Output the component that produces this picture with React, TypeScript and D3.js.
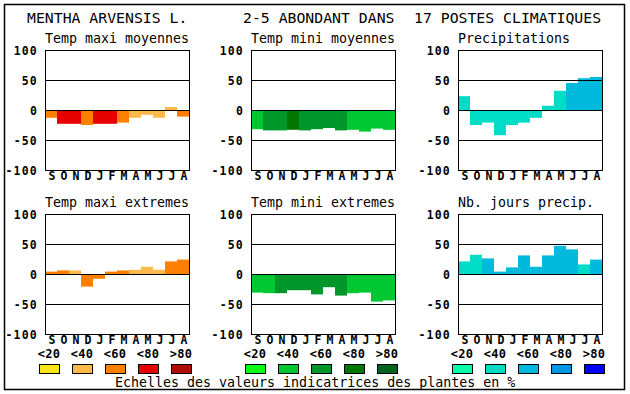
import React from "react";
import { scaleBand, scaleLinear } from "d3";

const months = ["S", "O", "N", "D", "J", "F", "M", "A", "M", "J", "J", "A"];
const ticks = [100, 50, 0, -50, -100];
const legendLabels = ["<20", "<40", "<60", "<80", ">80"];

// values in %, class = index into the palette (0:<20 ... 4:>80)
const tempMaxiMoy = [-13, -23, -23, -25, -23, -23, -21, -13, -8, -13, 5, -11];
const tempMaxiMoyCls = [2, 3, 3, 2, 3, 3, 2, 1, 1, 1, 1, 2];
const tempMiniMoy = [-32, -34, -34, -33, -34, -32, -30, -34, -33, -36, -31, -33];
const tempMiniMoyCls = [1, 2, 2, 3, 2, 2, 2, 2, 1, 1, 1, 1];
const precip = [23, -25, -21, -42, -25, -21, -13, 7, 32, 45, 53, 55];
const precipCls = [1, 1, 1, 1, 1, 1, 1, 1, 1, 2, 2, 2];
const tempMaxiExt = [4, 6, 6, -21, -8, 4, 6, 7, 12, 7, 21, 24];
const tempMaxiExtCls = [2, 2, 1, 2, 2, 2, 2, 1, 1, 1, 2, 2];
const tempMiniExt = [-31, -32, -32, -27, -27, -34, -22, -36, -32, -31, -46, -44];
const tempMiniExtCls = [1, 1, 2, 2, 2, 2, 2, 2, 1, 1, 1, 1];
const nbJours = [21, 32, 26, 4, 11, 31, 12, 31, 47, 41, 16, 24];
const nbJoursCls = [1, 1, 2, 2, 2, 2, 2, 2, 2, 2, 1, 2];

const warm = ["#f8e61a", "#ffb84c", "#ff8000", "#e60000", "#b00c00"];
const green = ["#00ff14", "#00c832", "#00962a", "#007800", "#00641e"];
const blue = ["#00ffaa", "#00dcc8", "#00bade", "#0096e6", "#0000ff"];

const mono = "'DejaVu Sans Mono', monospace";

type PanelProps = {
  left: number;
  top: number;
  title: string;
  values: number[];
  cls: number[];
  palette: string[];
  legend: boolean;
};

const Panel = ({ left, top, title, values, cls, palette, legend }: PanelProps) => {
  const w = 144;
  const h = 120;
  const x = scaleBand<number>().domain(months.map((_, i) => i)).range([left, left + w]);
  const y = scaleLinear().domain([-100, 100]).range([top + h, top]);
  return (
    <g>
      <text x={left} y={top - 7} fontFamily={mono} fontSize={13.3}>{title}</text>
      {values.map((v, i) => (
        <rect key={i} x={x(i)} width={x.bandwidth()}
          y={Math.min(y(v), y(0))} height={Math.abs(y(v) - y(0))}
          fill={palette[cls[i]]} />
      ))}
      {[50, 0, -50].map(t => (
        <line key={t} x1={left} x2={left + w} y1={y(t) + 0.5} y2={y(t) + 0.5} stroke="black" />
      ))}
      <rect x={left + 0.5} y={top + 0.5} width={w} height={h} fill="none" stroke="black" />
      {ticks.map(t => (
        <text key={t} x={left - 7} y={y(t) + 4.5} textAnchor="end" fontFamily={mono}
          fontWeight="bold" fontSize={11.5} letterSpacing={1.2}>{t}</text>
      ))}
      {months.map((m, i) => (
        <text key={i} x={(x(i) as number) + x.bandwidth() / 2 + 1} y={top + h + 10} textAnchor="middle"
          fontFamily={mono} fontWeight="bold" fontSize={11.5}>{m}</text>
      ))}
      {legend && legendLabels.map((l, i) => (
        <g key={l}>
          <text x={left + 4 + i * 33} y={top + h + 23.5} textAnchor="middle" fontFamily={mono}
            fontWeight="bold" fontSize={12} letterSpacing={0.3}>{l}</text>
          <rect x={left - 6 + i * 33 + 0.5} y={top + h + 30.5} width={20} height={9}
            fill={palette[i]} stroke="black" />
        </g>
      ))}
    </g>
  );
};

const App = () => {
  const lefts = [45, 251, 458];
  return (
    <svg width={630} height={394} style={{ position: "absolute", left: 0, top: 0, background: "white" }}>
      <rect x={4.5} y={4.5} width={620} height={385} fill="white" stroke="black" strokeWidth={1.5} />
      <text x={27} y={23} fontFamily={mono} fontSize={14.8}>MENTHA ARVENSIS L.</text>
      <text x={243} y={23} fontFamily={mono} fontSize={14.8}>2-5 ABONDANT DANS</text>
      <text x={414} y={23} fontFamily={mono} fontSize={14.8}>17 POSTES CLIMATIQUES</text>
      <Panel left={lefts[0]} top={50} title="Temp maxi moyennes" values={tempMaxiMoy} cls={tempMaxiMoyCls} palette={warm} legend={false} />
      <Panel left={lefts[1]} top={50} title="Temp mini moyennes" values={tempMiniMoy} cls={tempMiniMoyCls} palette={green} legend={false} />
      <Panel left={lefts[2]} top={50} title="Precipitations" values={precip} cls={precipCls} palette={blue} legend={false} />
      <Panel left={lefts[0]} top={214} title="Temp maxi extremes" values={tempMaxiExt} cls={tempMaxiExtCls} palette={warm} legend={true} />
      <Panel left={lefts[1]} top={214} title="Temp mini extremes" values={tempMiniExt} cls={tempMiniExtCls} palette={green} legend={true} />
      <Panel left={lefts[2]} top={214} title="Nb. jours precip." values={nbJours} cls={nbJoursCls} palette={blue} legend={true} />
      <text x={115} y={387} fontFamily={mono} fontSize={13.3}>Echelles des valeurs indicatrices des plantes en %</text>
    </svg>
  );
};

export default App;
